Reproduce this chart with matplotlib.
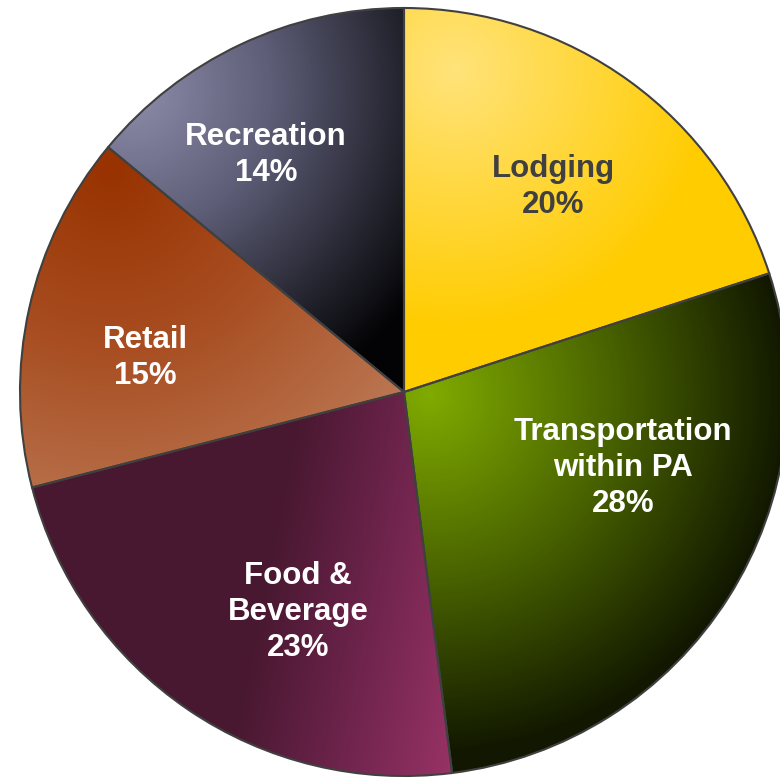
import matplotlib
matplotlib.use('Agg')
import matplotlib.pyplot as plt
import numpy as np
from matplotlib.colors import LinearSegmentedColormap

plt.rcParams['font.family'] = ['Liberation Sans', 'DejaVu Sans']

# spending shares, clockwise from twelve o'clock
categories = ['Lodging', 'Transportation\nwithin PA', 'Food &\nBeverage',
              'Retail', 'Recreation']
shares = [20, 28, 23, 15, 14]

W = H = 780
cx, cy = 404, 392          # pie centre in pixels (y down)
radius = 384

# label anchors in pixels (y down)
label_xy = [(553, 187), (623, 468), (298, 612), (145, 358), (266, 155)]
label_colors = ['#404040', 'white', 'white', 'white', 'white']

yy, xx = np.mgrid[0:H, 0:W].astype(float) + 0.5


def radial(x0, y0, r):
    return np.clip(np.hypot(xx - x0, yy - y0) / r, 0, 1)


def linear(a, b, lo, hi):
    return np.clip((a * xx + b * yy - lo) / (hi - lo), 0, 1)


# shading for each wedge: (t field, colour stops)
shading = [
    (radial(455, 70, 260), ['#FFE37A', '#FFCC00']),
    (radial(430, 395, 360), [(0, '#80AB00'), (0.5, '#4A6400'), (1, '#111700')]),
    (linear(1.0, 0.2, 380, 620), [(0, '#481830'), (0.4, '#682248'), (1, '#9C3468')]),
    (radial(110, 170, 360), [(0, '#983200'), (0.5, '#A84E22'), (1, '#BA7550')]),
    (radial(130, 90, 350), [(0, '#8E8EAC'), (0.4, '#5E5E78'),
                            (0.7, '#30303E'), (1, '#030305')]),
]

fig = plt.figure(figsize=(W / 100, H / 100), dpi=100)
ax = fig.add_axes([0, 0, 1, 1])

wedges, _ = ax.pie(shares, startangle=90, counterclock=False,
                   center=(cx, H - cy), radius=radius,
                   wedgeprops=dict(facecolor='none', edgecolor='#404040',
                                   linewidth=1.5))

for wedge, (t, stops) in zip(wedges, shading):
    cmap = LinearSegmentedColormap.from_list('shade', stops)
    im = ax.imshow(cmap(t), extent=(0, W, 0, H), origin='upper',
                   interpolation='bilinear', zorder=0.9)
    im.set_clip_path(wedge)

for name, val, (lx, ly), col in zip(categories, shares, label_xy, label_colors):
    ax.text(lx, H - ly, f'{name}\n{val}%', ha='center', va='center',
            fontsize=22.5, fontweight='bold', color=col, linespacing=1.27,
            zorder=3)

ax.set_xlim(0, W)
ax.set_ylim(0, H)
ax.set_aspect('equal')
ax.axis('off')

fig.savefig('out.png', dpi=100)
